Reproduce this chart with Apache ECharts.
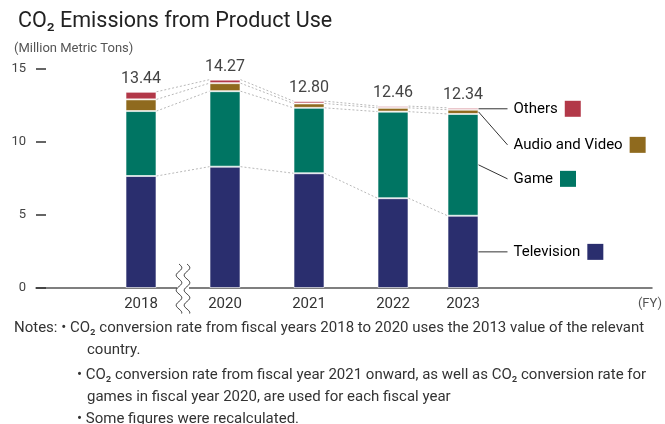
<!DOCTYPE html>
<html>
<head>
<meta charset="utf-8">
<script src="https://cdn.jsdelivr.net/npm/echarts@6/dist/echarts.min.js"></script>
<style>
  html, body { margin: 0; padding: 0; background: #fff; }
  #chart { width: 665px; height: 424px; }
</style>
</head>
<body>
<div id="chart"></div>
<script>
// Fiscal years shown on the axis (2019 is skipped, marked by an axis break)
const years = ['2018', '2020', '2021', '2022', '2023'];

// CO2 emissions from product use, million metric tons
const television = [7.67, 8.31, 7.86, 6.15, 4.95];
const game       = [4.45, 5.17, 4.48, 5.93, 6.97];
const audioVideo = [0.80, 0.55, 0.30, 0.26, 0.29];
const others     = [0.52, 0.24, 0.16, 0.12, 0.13];

const seriesNames  = ['Television', 'Game', 'Audio and Video', 'Others'];
const seriesColors = ['#2a2e6e', '#007563', '#8f6a1e', '#b23848'];

const yTicks = [0, 5, 10, 15];

const notes = [
  { text: 'Notes: \u2022 CO\u2082 conversion rate from fiscal years 2018 to 2020 uses the 2013 value of the relevant', x: 14, y: 328 },
  { text: 'country.', x: 87, y: 350 },
  { text: '\u2022 CO\u2082 conversion rate from fiscal year 2021 onward, as well as CO\u2082 conversion rate for', x: 77, y: 375 },
  { text: 'games in fiscal year 2020, are used for each fiscal year', x: 87, y: 397 },
  { text: '\u2022 Some figures were recalculated.', x: 77, y: 419 }
];

// ---- layout ----
const FONT = 'Roboto, "Noto Sans", sans-serif';
const SLOT_COUNT = 44;                 // narrow category slots across the plot
const yearSlots = [7, 13, 19, 25, 30]; // slot of each fiscal year
const BAR_WIDTH = 31;
const guideOffsets = [0, 14, 33, 0];   // vertical shift of each callout label

const valueSets = [television, game, audioVideo, others];

// spread the yearly values onto the slot grid
function toSlots(arr) {
  const out = new Array(SLOT_COUNT).fill('-');
  yearSlots.forEach((s, i) => { out[s] = arr[i]; });
  return out;
}
const slotLabels = new Array(SLOT_COUNT).fill('').map((_, i) => 's' + i);
const yearAtSlot = {};
yearSlots.forEach((s, i) => { yearAtSlot[s] = i; });

// cumulative stack boundaries per year
const levels = valueSets.map((_, k) =>
  years.map((_, i) => valueSets.slice(0, k + 1).reduce((a, arr) => a + arr[i], 0))
);
const stackTotals = levels[levels.length - 1];

// dotted connectors between neighbouring bars at each stack boundary
const connectors = [];
for (let k = 0; k < levels.length; k++) {
  for (let i = 0; i < years.length - 1; i++) {
    connectors.push({ from: [yearSlots[i], levels[k][i]], to: [yearSlots[i + 1], levels[k][i + 1]] });
  }
}

// callouts to the right of the last bar
const last = years.length - 1;
const guides = seriesNames.map((name, k) => {
  const base = k === 0 ? 0 : levels[k - 1][last];
  return { name, color: seriesColors[k], anchor: [yearSlots[last], base + valueSets[k][last] / 2], dy: guideOffsets[k] };
});

const chart = echarts.init(document.getElementById('chart'));

const barSeries = seriesNames.map((name, k) => ({
  name,
  type: 'bar',
  stack: 'total',
  barWidth: BAR_WIDTH,
  data: toSlots(valueSets[k]),
  itemStyle: { color: seriesColors[k], borderColor: 'rgba(255,255,255,0.6)', borderWidth: 1 },
  label: k === valueSets.length - 1 ? {
    show: true,
    position: 'top',
    distance: 5,
    fontFamily: FONT,
    fontSize: 16,
    color: '#444',
    formatter: p => stackTotals[yearAtSlot[p.dataIndex]].toFixed(2)
  } : { show: false },
  emphasis: { disabled: true },
  z: 3
}));

// static texts: unit, axis suffix, notes
const baseGraphics = [
  {
    type: 'text', left: 14, top: 42,
    style: { text: '(Million Metric Tons)', fontFamily: FONT, fontSize: 13, fill: '#555' }
  },
  {
    type: 'text', right: 3, top: 297,
    style: { text: '(FY)', fontFamily: FONT, fontSize: 13, fill: '#555' }
  },
  ...notes.map(n => ({
    type: 'text', x: n.x, y: n.y,
    style: { text: n.text, fontFamily: FONT, fontSize: 15, fill: '#333', verticalAlign: 'middle' }
  }))
];

chart.setOption({
  animation: false,
  title: {
    text: 'CO\u2082 Emissions from Product Use',
    left: 13,
    top: 6,
    textStyle: { fontFamily: FONT, fontSize: 21.5, fontWeight: 'normal', color: '#222' }
  },
  grid: { left: 36, right: 13, top: 69, bottom: 136, containLabel: false },
  xAxis: {
    type: 'category',
    data: slotLabels,
    axisLine: { lineStyle: { color: '#555', width: 1.5 } },
    axisTick: { show: false },
    axisLabel: {
      interval: 0,
      margin: 9,
      fontFamily: FONT,
      fontSize: 15,
      color: '#333',
      formatter: (v, idx) => (idx in yearAtSlot ? years[yearAtSlot[idx]] : '')
    }
  },
  yAxis: {
    type: 'value',
    min: yTicks[0],
    max: yTicks[yTicks.length - 1],
    interval: 5,
    axisLine: { show: false },
    axisTick: { show: true, inside: true, length: 10, lineStyle: { color: '#333', width: 1.5 } },
    splitLine: { show: false },
    axisLabel: { margin: 10, fontFamily: FONT, fontSize: 13, color: '#444' }
  },
  series: [
    ...barSeries,
    {
      type: 'custom',
      name: 'connectors',
      silent: true,
      data: connectors.map(c => c.from),
      renderItem: (params, api) => {
        const c = connectors[params.dataIndex];
        const p0 = api.coord(c.from);
        const p1 = api.coord(c.to);
        return {
          type: 'line',
          shape: { x1: p0[0] + BAR_WIDTH / 2, y1: p0[1], x2: p1[0] - BAR_WIDTH / 2, y2: p1[1] },
          style: { stroke: '#b8b8b8', lineWidth: 1, lineDash: [2, 2] }
        };
      },
      z: 2
    },
    {
      type: 'custom',
      name: 'callouts',
      silent: true,
      clip: false,
      data: guides.map(g => g.anchor),
      renderItem: (params, api) => {
        const g = guides[params.dataIndex];
        const p = api.coord(g.anchor);
        const x0 = p[0] + BAR_WIDTH / 2;
        const y1 = p[1] + g.dy;
        return {
          type: 'group',
          children: [
            {
              type: 'line',
              shape: { x1: x0, y1: p[1], x2: x0 + 29, y2: y1 },
              style: { stroke: '#333', lineWidth: 1 }
            },
            {
              type: 'text',
              x: x0 + 35,
              y: y1,
              style: {
                text: '{t|' + g.name + '}{gap|}{box|}',
                verticalAlign: 'middle',
                rich: {
                  t: { fontFamily: FONT, fontSize: 15, color: '#333' },
                  gap: { width: 7 },
                  box: { width: 16, height: 16, backgroundColor: g.color }
                }
              }
            }
          ]
        };
      },
      z: 4
    }
  ],
  graphic: baseGraphics
});

// axis break between 2018 and 2020: two wavy strokes over a gap in the axis line
const breakX = chart.convertToPixel({ xAxisIndex: 0 }, (yearSlots[0] + yearSlots[1]) / 2);
const axisY = chart.convertToPixel({ yAxisIndex: 0 }, 0);
function wavePoints(x, yTop, yBottom) {
  const period = 15, amp = 2.8;
  const pts = [];
  for (let y = yTop; y <= yBottom; y += 0.75) {
    pts.push([x + amp * Math.sin(2 * Math.PI * (y - yTop) / period), y]);
  }
  return pts;
}
const bx = breakX + 2;
chart.setOption({
  graphic: baseGraphics.concat([
    {
      type: 'rect', z: 10,
      shape: { x: bx - 8, y: axisY - 3, width: 12, height: 6 },
      style: { fill: '#fff' }
    },
    {
      type: 'polyline', z: 11,
      shape: { points: wavePoints(bx - 6, axisY - 24, axisY + 26) },
      style: { fill: null, stroke: '#333', lineWidth: 1 }
    },
    {
      type: 'polyline', z: 11,
      shape: { points: wavePoints(bx + 2, axisY - 24, axisY + 26) },
      style: { fill: null, stroke: '#333', lineWidth: 1 }
    }
  ])
});
</script>
</body>
</html>
